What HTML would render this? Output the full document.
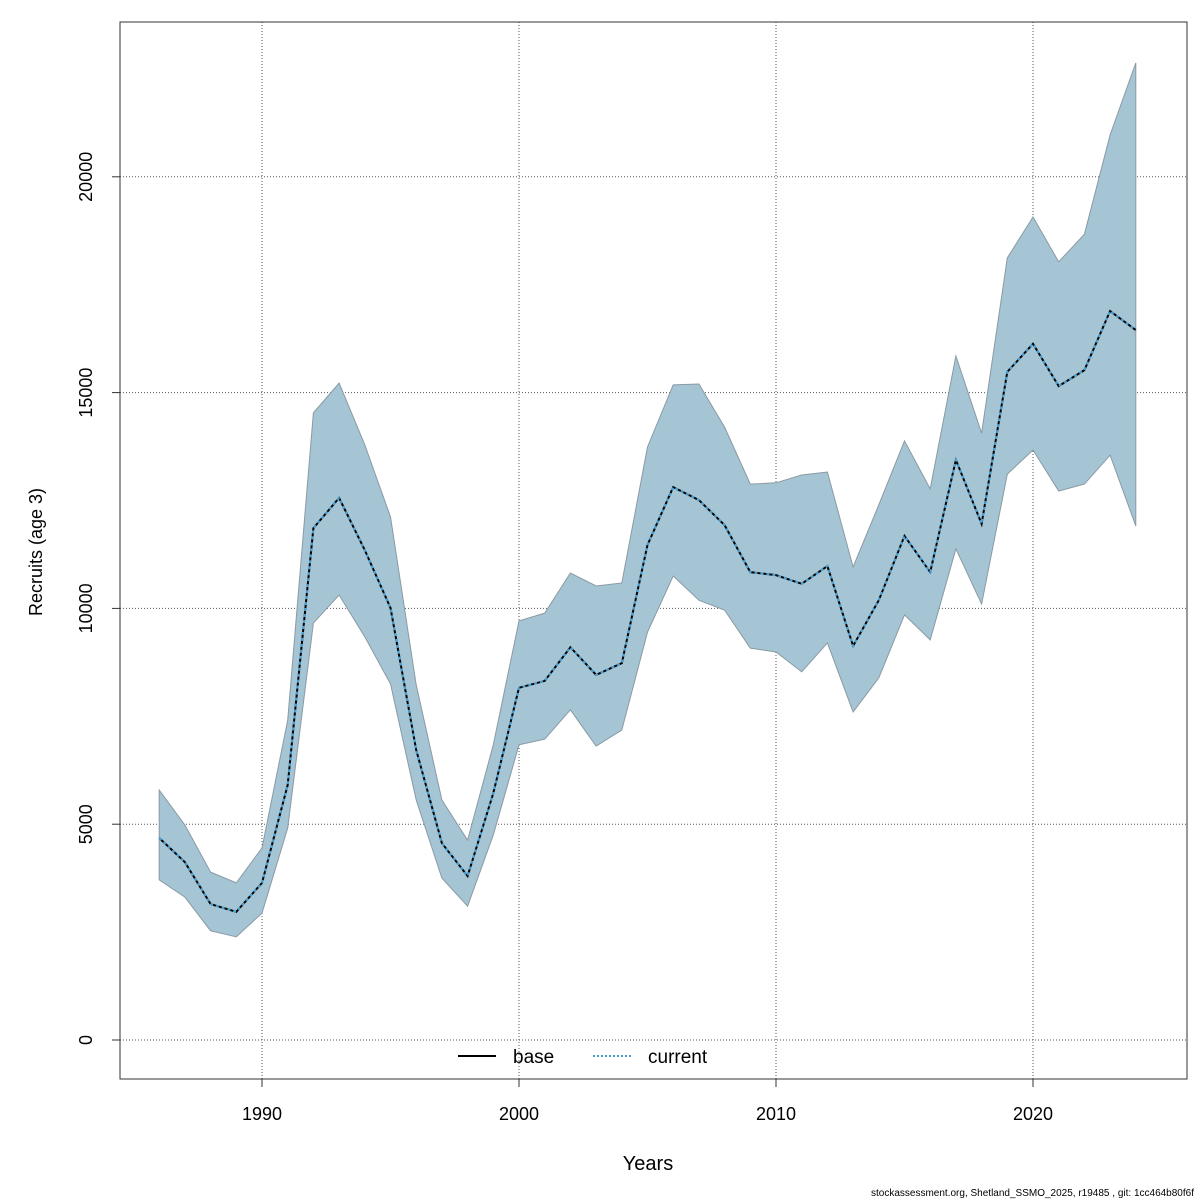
<!DOCTYPE html>
<html><head><meta charset="utf-8"><style>
body{margin:0;background:#fff;}
svg{display:block;font-family:"Liberation Sans",sans-serif;}
</style></head><body>
<svg id="chart" width="1200" height="1200" viewBox="0 0 1200 1200"></svg>
<script>
const years=[];for(let y=1986;y<=2024;y++)years.push(y);
const meanVals=[4680,4120,3150,2970,3640,5910,11860,12560,11350,10010,6720,4560,3800,5720,8160,8320,9100,8460,8730,11470,12810,12510,11930,10840,10770,10570,10980,9130,10190,11680,10840,13440,11960,15480,16130,15150,15520,16890,16450];
const upperVals=[5790,4980,3890,3640,4450,7410,14530,15220,13790,12120,8230,5560,4630,6840,9710,9890,10820,10520,10590,13740,15180,15200,14200,12880,12910,13090,13160,10960,12400,13880,12770,15850,14060,18120,19070,18030,18670,20970,22640];
const lowerVals=[3710,3310,2530,2390,2940,4910,9660,10310,9340,8250,5560,3750,3100,4750,6840,6970,7650,6810,7180,9450,10750,10190,9960,9080,8990,8530,9200,7600,8390,9850,9270,11380,10100,13110,13670,12720,12880,13550,11910];
const xTicks=[1990,2000,2010,2020];
const yTicks=[0,5000,10000,15000,20000];

const NS="http://www.w3.org/2000/svg";
const svg=document.getElementById('chart');
const X=y=>262+(y-1990)*25.7;
const Y=v=>1040-v*0.04316;
function mk(tag,attrs,parent){const e=document.createElementNS(NS,tag);for(const k in attrs)e.setAttribute(k,attrs[k]);(parent||svg).appendChild(e);return e;}

// grid
xTicks.forEach(t=>{const l=mk('line',{x1:X(t),x2:X(t),y1:22,y2:1079,stroke:'#555','stroke-dasharray':'1,2','stroke-width':1});

});
yTicks.forEach(t=>{const l=mk('line',{x1:120,x2:1187,y1:Y(t),y2:Y(t),stroke:'#555','stroke-dasharray':'1,2','stroke-width':1});

});

// band
let pts=years.map((y,i)=>X(y)+','+Y(upperVals[i]));
for(let i=years.length-1;i>=0;i--)pts.push(X(years[i])+','+Y(lowerVals[i]));
const band=mk('polygon',{points:pts.join(' '),fill:'#a5c4d4',stroke:'#8a9aa4','stroke-width':1});



const lp=years.map((y,i)=>X(y)+','+Y(meanVals[i])).join(' ');
const base=mk('polyline',{points:lp,fill:'none',stroke:'#000','stroke-width':2});


const cur=mk('polyline',{points:lp,fill:'none',stroke:'#4aa3d8','stroke-width':2,'stroke-dasharray':'3,3'});



// box
const box=mk('rect',{x:120,y:22,width:1067,height:1057,fill:'none',stroke:'#333','stroke-width':1});



// ticks
xTicks.forEach(t=>{mk('line',{x1:X(t),x2:X(t),y1:1079,y2:1087,stroke:'#333'});
const tx=mk('text',{x:X(t),y:1120,'text-anchor':'middle','font-size':18});tx.textContent=t;

});
yTicks.forEach(t=>{mk('line',{x1:112,x2:120,y1:Y(t),y2:Y(t),stroke:'#333'});
const tx=mk('text',{x:92,y:Y(t),'text-anchor':'middle','font-size':18,transform:`rotate(-90 92 ${Y(t)})`});tx.textContent=t;

});
</script>
<svg style="position:absolute;left:0;top:0" width="1200" height="1200" font-family="Liberation Sans, sans-serif">
<text x="648" y="1170" text-anchor="middle" font-size="20">Years</text>
<text x="42" y="552" text-anchor="middle" font-size="18" transform="rotate(-90 42 552)">Recruits (age 3)</text>
<g>
<line x1="458" x2="496" y1="1056" y2="1056" stroke="#000" stroke-width="2"/>
<text x="513" y="1063" font-size="19">base</text>
<line x1="593" x2="631" y1="1056" y2="1056" stroke="#4aa3d8" stroke-width="2" stroke-dasharray="2,2"/>
<text x="648" y="1063" font-size="19">current</text>
</g>
<text x="1194" y="1196" text-anchor="end" font-size="10">stockassessment.org, Shetland_SSMO_2025, r19485 , git: 1cc464b80f6f</text>
</svg>
</body></html>
